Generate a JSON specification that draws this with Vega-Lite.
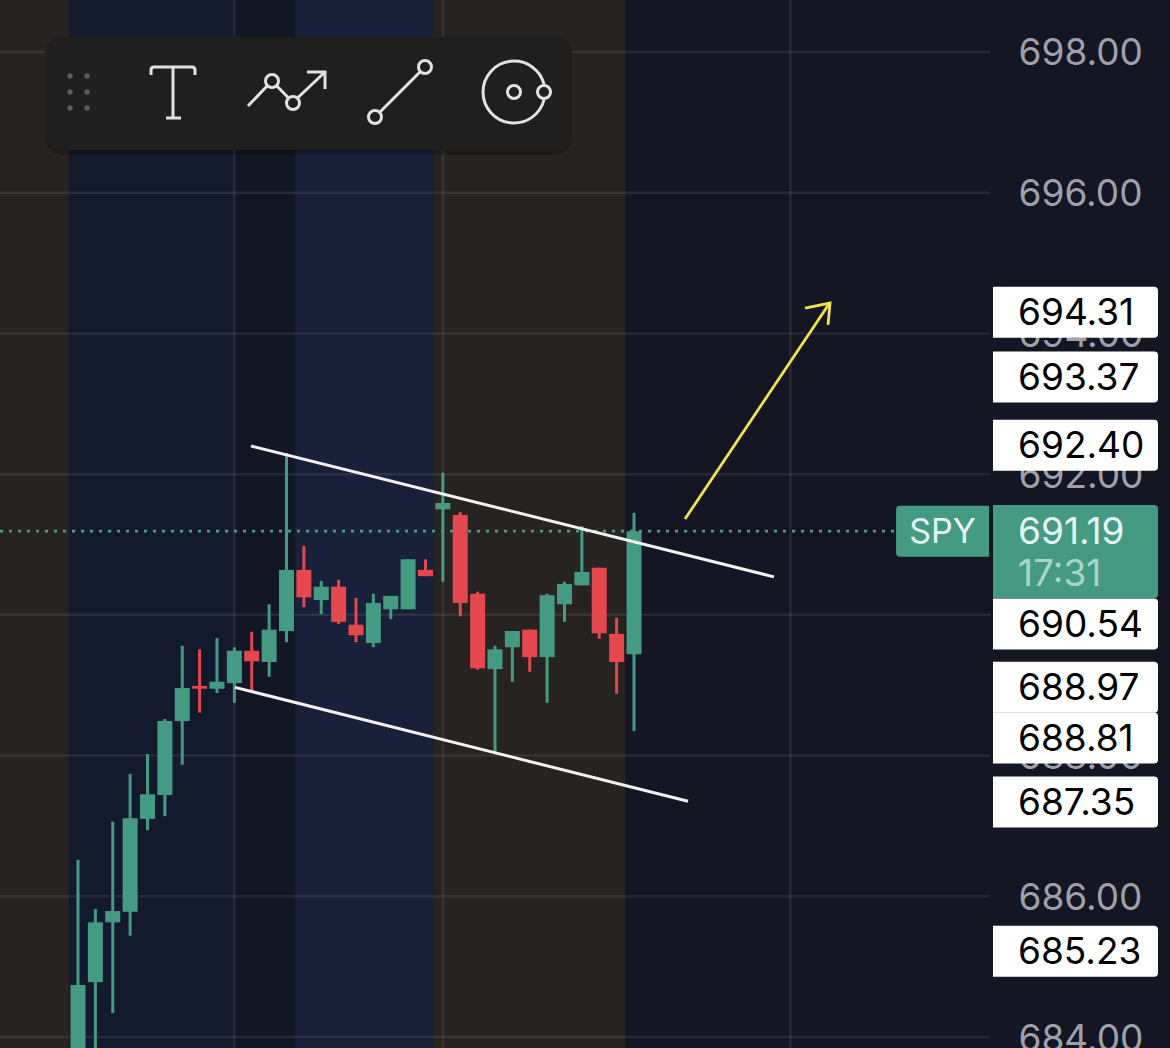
{
"$schema":"https://vega.github.io/schema/vega-lite/v6.json",
"width":990,"height":1048,"autosize":"none","padding":{"left":0,"top":0,"right":180,"bottom":0},
"background":"#141623",
"config":{"view":{"stroke":null},"text":{"font":"Inter"}},
"resolve":{"scale":{"color":"independent"}},
"datasets":{
"sessions":[
{"start":-4.489,"end":-0.5,"session":"a"},
{"start":-0.5,"end":9,"session":"b"},
{"start":9,"end":12.5,"session":"c"},
{"start":12.5,"end":20.5,"session":"d"},
{"start":20.5,"end":31.5,"session":"a"}],
"hgrid":[{"p":684},{"p":686},{"p":688},{"p":690},{"p":692},{"p":694},{"p":696},{"p":698}],
"vgrid":[{"i":9},{"i":21},{"i":41}],
"candles":[
{"i":0,"open":683.67,"close":684.74,"high":686.52,"low":683.46,"dir":"up"},
{"i":1,"open":684.78,"close":685.63,"high":685.82,"low":683.67,"dir":"up"},
{"i":2,"open":685.63,"close":685.79,"high":687.06,"low":684.34,"dir":"up"},
{"i":3,"open":685.78,"close":687.11,"high":687.74,"low":685.44,"dir":"up"},
{"i":4,"open":687.10,"close":687.45,"high":688.02,"low":686.94,"dir":"up"},
{"i":5,"open":687.44,"close":688.49,"high":688.52,"low":687.14,"dir":"up"},
{"i":6,"open":688.49,"close":688.96,"high":689.56,"low":687.87,"dir":"up"},
{"i":7,"open":688.99,"close":688.95,"high":689.51,"low":688.61,"dir":"down"},
{"i":8,"open":688.95,"close":689.05,"high":689.67,"low":688.89,"dir":"up"},
{"i":9,"open":689.03,"close":689.49,"high":689.54,"low":688.75,"dir":"up"},
{"i":10,"open":689.49,"close":689.34,"high":689.76,"low":688.90,"dir":"down"},
{"i":11,"open":689.33,"close":689.79,"high":690.15,"low":689.12,"dir":"up"},
{"i":12,"open":689.77,"close":690.64,"high":692.30,"low":689.61,"dir":"up"},
{"i":13,"open":690.64,"close":690.25,"high":690.98,"low":690.11,"dir":"down"},
{"i":14,"open":690.21,"close":690.40,"high":690.48,"low":690.01,"dir":"up"},
{"i":15,"open":690.40,"close":689.90,"high":690.50,"low":689.87,"dir":"down"},
{"i":16,"open":689.86,"close":689.71,"high":690.24,"low":689.61,"dir":"down"},
{"i":17,"open":689.60,"close":690.17,"high":690.30,"low":689.54,"dir":"up"},
{"i":18,"open":690.08,"close":690.27,"high":690.27,"low":689.94,"dir":"up"},
{"i":19,"open":690.08,"close":690.79,"high":690.79,"low":690.08,"dir":"up"},
{"i":20,"open":690.64,"close":690.55,"high":690.79,"low":690.55,"dir":"down"},
{"i":21,"open":691.50,"close":691.59,"high":692.02,"low":690.47,"dir":"up"},
{"i":22,"open":691.42,"close":690.17,"high":691.46,"low":689.98,"dir":"down"},
{"i":23,"open":690.30,"close":689.24,"high":690.33,"low":689.22,"dir":"down"},
{"i":24,"open":689.23,"close":689.51,"high":689.56,"low":688.02,"dir":"up"},
{"i":25,"open":689.54,"close":689.77,"high":689.77,"low":689.05,"dir":"up"},
{"i":26,"open":689.79,"close":689.40,"high":689.79,"low":689.19,"dir":"down"},
{"i":27,"open":689.40,"close":690.28,"high":690.30,"low":688.75,"dir":"up"},
{"i":28,"open":690.15,"close":690.44,"high":690.47,"low":689.90,"dir":"up"},
{"i":29,"open":690.42,"close":690.61,"high":691.26,"low":690.42,"dir":"up"},
{"i":30,"open":690.67,"close":689.74,"high":690.67,"low":689.66,"dir":"down"},
{"i":31,"open":689.73,"close":689.33,"high":689.96,"low":688.88,"dir":"down"},
{"i":32,"open":689.44,"close":691.19,"high":691.45,"low":688.35,"dir":"up"}],
"channel":[
{"line":"upper","i":9.957,"p":692.40},{"line":"upper","i":40.058,"p":690.54},
{"line":"lower","i":9.036,"p":688.97},{"line":"lower","i":35.108,"p":687.35}],
"arrow":[
{"line":"shaft","order":1,"i":34.935,"p":691.362},{"line":"shaft","order":2,"i":43.223,"p":694.418},
{"line":"head","order":1,"i":41.842,"p":694.361},{"line":"head","order":2,"i":43.281,"p":694.432},{"line":"head","order":3,"i":43.165,"p":694.12}],
"toolbar":[{"i":-1.899,"i2":28.432,"p":698.213,"p2":696.607}],
"toolbarShadow":[{"i":-1.899,"i2":28.432,"p":698.18,"p2":696.54}],
"grip":[{"i":-0.46,"p":697.659},{"i":0.518,"p":697.659},{"i":-0.46,"p":697.431},{"i":0.518,"p":697.431},{"i":-0.46,"p":697.204},{"i":0.518,"p":697.204}],
"icons":[{"icon":"text","i":5.468,"p":697.431},{"icon":"path","i":12.029,"p":697.431},{"icon":"segment","i":18.532,"p":697.431},{"icon":"circle","i":25.094,"p":697.431}],
"levels":[
{"label":"694.31","p":694.30},
{"label":"693.37","p":693.38},
{"label":"692.40","p":692.41},
{"label":"690.54","p":689.87},
{"label":"688.97","p":688.97},
{"label":"688.81","p":688.25},
{"label":"687.35","p":687.34},
{"label":"685.23","p":685.22}]
},
"layer":[
{"data":{"name":"sessions"},"mark":{"type":"rect"},
 "encoding":{"x":{"field":"start","type":"quantitative","scale":{"domain":[-4.489,52.489],"nice":false,"zero":false,"padding":0},"axis":null},"x2":{"field":"end"},
 "color":{"field":"session","type":"nominal","legend":null,"scale":{"domain":["a","b","c","d"],"range":["#272320","#141a2d","#131625","#18203a"]}}}},
{"data":{"name":"hgrid"},"mark":{"type":"rule","color":"#ffffff","opacity":0.08,"strokeWidth":2.5},
 "encoding":{"y":{"field":"p","type":"quantitative","scale":{"domain":[683.844,698.739],"nice":false,"zero":false,"padding":0},
 "axis":{"orient":"right","values":[684,686,688,690,692,694,696,698],"format":".2f","title":null,"grid":false,"domain":false,"ticks":false,"labelFont":"Inter","labelFontSize":37,"labelColor":"#9ea1ab","labelPadding":28,"labelOffset":2,"labelOverlap":false,"labelBound":false,"labelFlush":false}}}},
{"data":{"name":"vgrid"},"mark":{"type":"rule","color":"#ffffff","opacity":0.08,"strokeWidth":2.5},
 "encoding":{"x":{"field":"i","type":"quantitative"}}},
{"data":{"values":[{"p":691.19,"from":-4.489,"to":47.14}]},"mark":{"type":"rule","color":"#469c87","strokeWidth":2.6,"strokeDash":[3,6]},
 "encoding":{"y":{"field":"p","type":"quantitative"},"x":{"field":"from","type":"quantitative"},"x2":{"field":"to"}}},
{"data":{"name":"candles"},"mark":{"type":"rule","strokeWidth":3},
 "encoding":{"x":{"field":"i","type":"quantitative"},"y":{"field":"low","type":"quantitative"},"y2":{"field":"high"},
 "color":{"field":"dir","type":"nominal","legend":null,"scale":{"domain":["up","down"],"range":["#459a84","#e5474f"]}}}},
{"data":{"name":"candles"},"mark":{"type":"bar","size":15,"orient":"vertical"},
 "encoding":{"x":{"field":"i","type":"quantitative"},"y":{"field":"open","type":"quantitative"},"y2":{"field":"close"},
 "color":{"field":"dir","type":"nominal","legend":null,"scale":{"domain":["up","down"],"range":["#459a84","#e5474f"]}}}},
{"data":{"name":"channel"},"mark":{"type":"line","color":"#f2f2f2","strokeWidth":3},
 "encoding":{"x":{"field":"i","type":"quantitative"},"y":{"field":"p","type":"quantitative"},"detail":{"field":"line"}}},
{"data":{"name":"arrow"},"mark":{"type":"line","color":"#f1e24f","strokeWidth":2.8},
 "encoding":{"x":{"field":"i","type":"quantitative"},"y":{"field":"p","type":"quantitative"},"detail":{"field":"line"},"order":{"field":"order"}}},
{"data":{"name":"toolbarShadow"},"mark":{"type":"rect","color":"#000000","opacity":0.25,"cornerRadius":18},
 "encoding":{"x":{"field":"i","type":"quantitative"},"x2":{"field":"i2"},"y":{"field":"p","type":"quantitative"},"y2":{"field":"p2"}}},
{"data":{"name":"toolbar"},"mark":{"type":"rect","color":"#1f1f1f","cornerRadius":16},
 "encoding":{"x":{"field":"i","type":"quantitative"},"x2":{"field":"i2"},"y":{"field":"p","type":"quantitative"},"y2":{"field":"p2"}}},
{"data":{"name":"grip"},"mark":{"type":"point","filled":true,"color":"#5a5a5a","size":30,"opacity":1},
 "encoding":{"x":{"field":"i","type":"quantitative"},"y":{"field":"p","type":"quantitative"}}},
{"data":{"name":"icons"},"mark":{"type":"point","filled":false,"stroke":"#e2e2e2","strokeWidth":3,"size":4,"opacity":1},
 "encoding":{"x":{"field":"i","type":"quantitative"},"y":{"field":"p","type":"quantitative"},
 "shape":{"field":"icon","type":"nominal","legend":null,"scale":{"domain":["text","path","segment","circle"],"range":[
 "M-22,-17 L-22,-22 Q-22,-25 -19,-25 L19,-25 Q22,-25 22,-22 L22,-17 M0,-25 L0,26 M-7,26 L8,26",
 "M-39,14 L-19.5,-6.5 M-8.5,-11 A6.5,6.5 0 1 0 -21.5,-11 A6.5,6.5 0 1 0 -8.5,-11 M-10.5,-6.5 L1.5,6 M12.5,11 A6.5,6.5 0 1 0 -0.5,11 A6.5,6.5 0 1 0 12.5,11 M10.5,6 L38,-20 M20,-20 L38,-20 L38,-3",
 "M-18.5,25 A6.5,6.5 0 1 0 -31.5,25 A6.5,6.5 0 1 0 -18.5,25 M31.5,-25 A6.5,6.5 0 1 0 18.5,-25 A6.5,6.5 0 1 0 31.5,-25 M-20.5,20.5 L20.5,-20.5",
 "M30.2,-7 A31,31 0 1 0 30.2,7 M6.5,0 A6.5,6.5 0 1 0 -6.5,0 A6.5,6.5 0 1 0 6.5,0 M36.5,0 A6.5,6.5 0 1 0 23.5,0 A6.5,6.5 0 1 0 36.5,0"
 ]}}}},
{"data":{"name":"levels"},
 "mark":{"type":"point","shape":"M-82.5,-25.5 L78.5,-25.5 Q82.5,-25.5 82.5,-21.5 L82.5,21.5 Q82.5,25.5 78.5,25.5 L-82.5,25.5 Z","size":4,"filled":true,"color":"#ffffff","opacity":1},
 "encoding":{"x":{"datum":57.41,"type":"quantitative"},"y":{"field":"p","type":"quantitative"}}},
{"data":{"name":"levels"},"mark":{"type":"text","align":"left","baseline":"middle","dy":2,"font":"Inter","fontSize":37,"color":"#000000"},
 "encoding":{"x":{"datum":54.1,"type":"quantitative"},"y":{"field":"p","type":"quantitative"},"text":{"field":"label"}}},
{"data":{"values":[{"p":690.9,"i":57.41}]},"mark":{"type":"point","shape":"M-82.5,-46.5 L78.5,-46.5 Q82.5,-46.5 82.5,-42.5 L82.5,42.5 Q82.5,46.5 78.5,46.5 L-82.5,46.5 Z","size":4,"filled":true,"color":"#459a84","opacity":1},
 "encoding":{"x":{"field":"i","type":"quantitative"},"y":{"field":"p","type":"quantitative"}}},
{"data":{"values":[{"p":691.19,"i":49.76}]},"mark":{"type":"point","shape":"M46.5,-25.5 L-42.5,-25.5 Q-46.5,-25.5 -46.5,-21.5 L-46.5,21.5 Q-46.5,25.5 -42.5,25.5 L46.5,25.5 Z","size":4,"filled":true,"color":"#459a84","opacity":1},
 "encoding":{"x":{"field":"i","type":"quantitative"},"y":{"field":"p","type":"quantitative"}}},
{"data":{"values":[{"p":691.19,"i":54.1,"t":"691.19"}]},"mark":{"type":"text","align":"left","baseline":"middle","dy":2,"font":"Inter","fontSize":37,"color":"#e8f5f0"},
 "encoding":{"x":{"field":"i","type":"quantitative"},"y":{"field":"p","type":"quantitative"},"text":{"field":"t"}}},
{"data":{"values":[{"p":690.595,"i":54.1,"t":"17:31"}]},"mark":{"type":"text","align":"left","baseline":"middle","dy":2,"font":"Inter","fontSize":37,"color":"#a9d5c8"},
 "encoding":{"x":{"field":"i","type":"quantitative"},"y":{"field":"p","type":"quantitative"},"text":{"field":"t"}}},
{"data":{"values":[{"p":691.19,"i":49.76,"t":"SPY"}]},"mark":{"type":"text","align":"center","baseline":"middle","dy":2,"font":"Inter","fontSize":34,"color":"#e8f5f0"},
 "encoding":{"x":{"field":"i","type":"quantitative"},"y":{"field":"p","type":"quantitative"},"text":{"field":"t"}}}
]
}
